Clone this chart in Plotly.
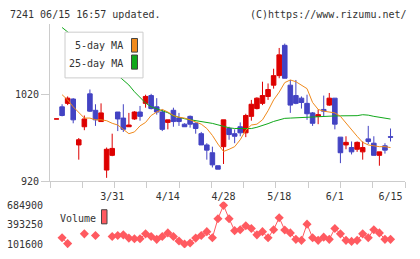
import plotly.graph_objects as go

# ---------------- data ----------------
tick_idx = [10, 20, 30, 40, 50, 60]
tick_labels = ['3/31', '4/14', '4/28', '5/18', '6/1', '6/15']

opens = [992, 1006, 1010, 1015, 962, 983, 1021, 1002, 989, 933,
         950, 1000, 993, 983, 992, 1000, 1010, 1019, 1006, 1000,
         988, 1002, 993, 986, 995, 987, 975, 962, 953, 938,
         960, 981, 975, 983, 976, 995, 1004, 1010, 1018, 1031,
         1042, 1077, 1031, 1019, 1016, 1010, 999, 995, 1003, 1008,
         1016, 971, 962, 959, 957, 954, 969, 964, 950, 961,
         971.5]
highs = [992, 1009, 1018, 1016, 970, 996, 1026, 1009, 1010, 959,
         975, 1000, 1009, 999, 1001, 1007, 1020, 1021, 1016, 1003,
         991, 1005, 999, 987, 996, 988, 977, 964, 960, 938,
         991, 983, 980, 988, 998, 1014, 1017, 1035, 1033, 1050,
         1074, 1079, 1037, 1037, 1018, 1020, 1000, 1003, 1019, 1022,
         1016, 971, 972, 966, 966, 966, 984, 972, 954, 964,
         981]
lows = [992, 995, 1008, 987, 945, 979, 1000, 984, 989, 924,
        949, 978, 977, 983, 991, 990, 1005, 1003, 997, 978,
        980, 983, 984, 983, 982, 975, 962, 945, 936, 934,
        940, 968, 964, 972, 971, 990, 1003, 1008, 1014, 1027,
        1039, 1039, 999, 1009, 1004, 991, 984, 986, 995, 1007,
        980, 941, 957, 951, 954, 945, 963, 950, 938, 952,
        966]
closes = [992, 996, 1016, 991, 968, 992, 1001, 991, 999, 957,
          958, 992, 980, 985, 1000, 995, 1018, 1004, 1000, 980,
          991, 989, 989, 983, 986, 981, 962, 956, 939, 934,
          991, 974, 972, 976, 996, 1009, 1016, 1019, 1026, 1042,
          1066, 1039, 1008, 1010, 1011, 998, 987, 997, 1001, 1016,
          986, 953, 965, 954, 965, 959, 966, 950, 954, 956,
          971]

ma5 = [None, 1020, 1014, 1006, 1000, 993, 993, 991, 991, 990,
       987, 985, 980, 975, 977, 984, 988, 996, 1000, 1003,
       1000, 996, 994, 993, 991, 988.5, 986, 981, 973, 963,
       954.5, 957, 960, 968, 979, 985, 986, 991, 1001.5, 1014,
       1023, 1034, 1037, 1035, 1031, 1027, 1011, 1003, 1001, 1000,
       999, 995, 987, 980, 972, 965, 962, 961, 960, 960,
       959]
ma25 = [None, 1097.6, 1093, 1087.4, 1081.8, 1076.2, 1070.6, 1065, 1059.4, 1053.7,
        1048.1, 1042.5, 1036.9, 1031.2, 1023.4, 1016.6, 1010.4, 1006, 1003.7, 1002,
        999.2, 995.6, 993.6, 992.2, 991.1, 990.2, 989.1, 988, 986.9, 985.2,
        983.1, 981.8, 981, 980.7, 980.7, 980.9, 982.4, 984.3, 986.6, 989.1,
        990.8, 992.7, 993, 993.4, 993.7, 993.9, 994.2, 994.6, 994.9, 995.3,
        995.5, 995.6, 995.6, 995.6, 995.8, 996.9, 996.4, 995, 993.8, 993,
        991.9]

volume = [None, 199000, 112000, None, None, 258000, None, 233000, None, None,
          218000, 233000, 243000, 194000, 185000, 185000, 258000, 218000, 175000, 218000,
          272000, 218000, 150000, 105000, 121000, 194000, 233000, 291000, 199000, 485000,
          684900, 485000, 306000, 320000, 379000, 339000, 243000, 291000, 199000, 320000,
          500000, 316000, 272000, 175000, 160000, 403000, 199000, 160000, 208000, 175000,
          339000, 258000, 160000, 145000, 160000, 258000, 199000, 320000, 272000, 175000,
          175000]
vol_ticks = [101600, 393250, 684900]

idx = list(range(len(closes)))

# ---------------- style ----------------
W, H = 420, 259
FONT = "DejaVu Sans Mono"
TXT = "#333333"
AX = "#cccccc"
UP = "#dd0000"
DOWN = "#4343c3"
ORANGE = "#f08a1c"
GREEN = "#10a81a"
VOLC = "#ff5a60"

def px_x(p):
    return p / W

def px_y(p):
    return 1 - p / H

fig = go.Figure()

fig.add_trace(go.Scatter(x=idx, y=ma25, mode="lines", line=dict(color=GREEN, width=1),
                         xaxis="x", yaxis="y", hoverinfo="skip"))
fig.add_trace(go.Candlestick(
    x=idx, open=opens, high=highs, low=lows, close=closes,
    increasing=dict(fillcolor=UP, line=dict(color=UP, width=1)),
    decreasing=dict(fillcolor=DOWN, line=dict(color=DOWN, width=1)),
    whiskerwidth=0, xaxis="x", yaxis="y"))
fig.add_trace(go.Scatter(x=idx, y=ma5, mode="lines", line=dict(color=ORANGE, width=1),
                         xaxis="x", yaxis="y", hoverinfo="skip"))

fig.add_trace(go.Scatter(x=idx, y=volume, mode="lines+markers",
                         line=dict(color=VOLC, width=1),
                         marker=dict(symbol="diamond", size=7, color=VOLC),
                         connectgaps=False, xaxis="x2", yaxis="y2"))

xr = [-1.17, 62.6]
xdom = [50 / W, 405 / W]

fig.update_layout(
    width=W, height=H,
    margin=dict(l=0, r=0, t=0, b=0),
    paper_bgcolor="white", plot_bgcolor="white",
    showlegend=False,
    boxgap=0.18, boxgroupgap=0,
    font=dict(family=FONT, size=10, color=TXT),
    xaxis=dict(domain=xdom, range=xr, showgrid=False, zeroline=False,
               showline=True, linecolor=AX, linewidth=1,
               tickvals=tick_idx, ticktext=tick_labels,
               ticks="outside", ticklen=6, tickcolor="rgba(0,0,0,0)",
               minor=dict(ticks="outside", ticklen=6, tickcolor=AX,
                          tick0=xr[0], dtick=(xr[1] - xr[0]) / 11, showgrid=False),
               rangeslider=dict(visible=False),
               tickfont=dict(family=FONT, size=10, color=TXT), anchor="y"),
    yaxis=dict(domain=[px_y(184.3), px_y(23)], range=[920, 1101.2],
               showgrid=False, zeroline=False,
               showline=True, linecolor=AX, linewidth=1,
               tickvals=[920, 1020], ticktext=["920", "1020"],
               ticks="outside", ticklen=8, tickcolor=AX,
               tickfont=dict(family=FONT, size=10, color=TXT), anchor="x"),
    xaxis2=dict(domain=xdom, range=xr, visible=False, anchor="y2"),
    yaxis2=dict(domain=[px_y(253), px_y(205)], range=[43270, 743230],
                showgrid=False, zeroline=False, showline=False,
                tickvals=vol_ticks, ticktext=[str(v) for v in vol_ticks],
                ticks="outside", ticklen=4, tickcolor="rgba(0,0,0,0)",
                tickfont=dict(family=FONT, size=10, color=TXT), anchor="x2"),
)

shapes = [
    # MA legend box
    dict(type="rect", xref="paper", yref="paper",
         x0=px_x(65), x1=px_x(143), y0=px_y(78), y1=px_y(31),
         fillcolor="white", line=dict(color=AX, width=1), layer="above"),
    dict(type="rect", xref="paper", yref="paper",
         x0=px_x(131.5), x1=px_x(137.5), y0=px_y(51.5), y1=px_y(37.5),
         fillcolor=ORANGE, line=dict(color="#444444", width=1), layer="above"),
    dict(type="rect", xref="paper", yref="paper",
         x0=px_x(131.5), x1=px_x(137.5), y0=px_y(69), y1=px_y(54.5),
         fillcolor=GREEN, line=dict(color="#444444", width=1), layer="above"),
    # Volume legend swatch
    dict(type="rect", xref="paper", yref="paper",
         x0=px_x(101.5), x1=px_x(107), y0=px_y(228), y1=px_y(213.5),
         fillcolor=VOLC, line=dict(color="#444444", width=1), layer="above"),
]
fig.update_layout(shapes=shapes)

def ann(text, x, y, xanchor):
    return dict(text=text, xref="paper", yref="paper", x=px_x(x), y=px_y(y),
                xanchor=xanchor, yanchor="middle", showarrow=False,
                font=dict(family=FONT, size=10, color=TXT))

fig.update_layout(annotations=[
    ann("7241 06/15 16:57 updated.", 8, 13, "left"),
    ann("(C)https://www.rizumu.net/", 409, 13, "right"),
    ann("5-day MA", 125, 45, "right"),
    ann("25-day MA", 125, 63, "right"),
    ann("Volume", 58, 222, "left"),
])

fig.write_html("out.html")
